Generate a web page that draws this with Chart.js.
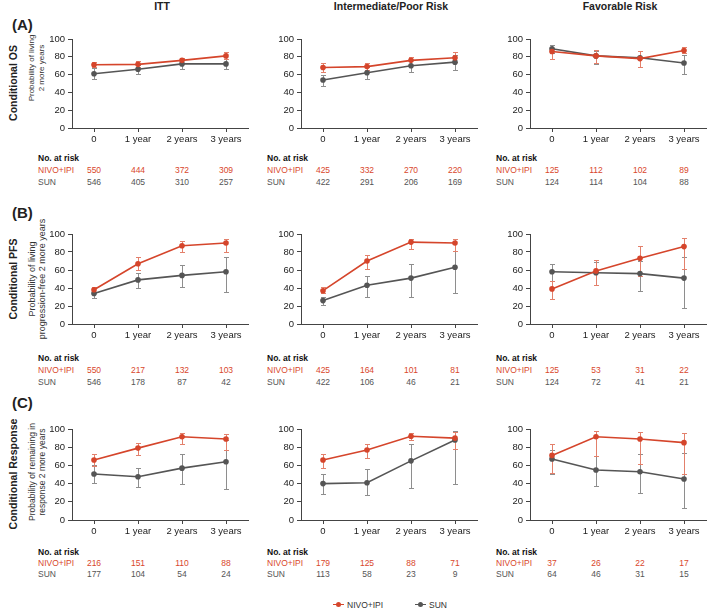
<!DOCTYPE html>
<html>
<head>
<meta charset="utf-8">
<script src="https://cdn.jsdelivr.net/npm/chart.js@4.4.0/dist/chart.umd.min.js"></script>
<style>
html, body { margin: 0; padding: 0; background: #fff; }
body { width: 709px; height: 611px; position: relative; overflow: hidden; font-family: "Liberation Sans", Arial, sans-serif; color: #222; }
.abs { position: absolute; white-space: nowrap; line-height: 1; }
canvas { position: absolute; }
.colTitle { font-weight: bold; font-size: 10.5px; transform: translate(-50%, -50%); }
.rowTag { font-weight: bold; font-size: 15px; transform: translateY(-50%); }
.rowTitle { font-weight: bold; font-size: 10.5px; transform: translate(-50%, -50%) rotate(-90deg); }
.yTitle { color: #333; text-align: center; line-height: 10px; transform: translate(-50%, -50%) rotate(-90deg); }
.risk { font-size: 8.5px; transform: translateY(-50%); }
.num { font-size: 8.5px; transform: translate(-50%, -50%); }
.red { color: #d9472c; }
.grey { color: #555; }
</style>
</head>
<body>
<script>
// time points
const timeLabels = ['0', '1 year', '2 years', '3 years'];
const columns = ['ITT', 'Intermediate/Poor Risk', 'Favorable Risk'];

// Conditional OS (per column: ITT, Int/Poor, Favorable)
const osNivo   = [[71, 71.5, 76, 81], [68, 69, 76, 79], [86, 81, 78, 87]];
const osNivoLo = [[68, 68, 72, 77], [63, 65, 71, 74], [78, 73, 69, 84]];
const osNivoHi = [[74, 75, 79, 85], [73, 73, 80, 85], [90, 88, 86, 91]];
const osSun    = [[61, 66, 72, 72], [54, 62, 70, 74], [89, 81, 79, 73]];
const osSunLo  = [[55, 61, 66, 66], [47, 55, 63, 65], [84, 72, 68, 61]];
const osSunHi  = [[67, 71, 77, 78], [60, 68, 76, 82], [93, 87, 86, 82]];

// Conditional PFS
const pfsNivo   = [[38, 67, 87, 90], [37, 70, 91, 90], [39, 59, 73, 86]];
const pfsNivoLo = [[36, 60, 80, 80], [34, 61, 83, 81], [28, 43, 53, 61]];
const pfsNivoHi = [[41, 74, 92, 94], [41, 77, 94, 95], [48, 71, 87, 96]];
const pfsSun    = [[34, 49, 54, 58], [26, 43, 51, 63], [58, 57, 56, 51]];
const pfsSunLo  = [[29, 40, 41, 36], [21, 30, 30, 34], [48, 43, 37, 18]];
const pfsSunHi  = [[40, 57, 66, 75], [30, 53, 67, 81], [67, 69, 70, 75]];

// Conditional response
const respNivo   = [[66, 79, 91.5, 89], [66, 77, 92, 90], [71, 91.5, 89, 85]];
const respNivoLo = [[59, 71.5, 83, 77], [57, 68, 88, 78], [52, 70, 62, 51]];
const respNivoHi = [[72.5, 85, 96, 94], [72.5, 83.5, 96, 97], [83.5, 97.5, 97, 96]];
const respSun    = [[50.5, 47.5, 57, 64], [40, 41, 65, 88], [67, 55, 53, 45]];
const respSunLo  = [[41, 36.5, 39.5, 34], [28.5, 27, 35, 39.5], [51, 37, 30, 13]];
const respSunHi  = [[60, 57.5, 72.5, 88], [51, 56, 83.5, 98], [77, 70, 72.5, 74]];

// No. at risk
const osRiskNivo   = [[550, 444, 372, 309], [425, 332, 270, 220], [125, 112, 102, 89]];
const osRiskSun    = [[546, 405, 310, 257], [422, 291, 206, 169], [124, 114, 104, 88]];
const pfsRiskNivo  = [[550, 217, 132, 103], [425, 164, 101, 81], [125, 53, 31, 22]];
const pfsRiskSun   = [[546, 178, 87, 42], [422, 106, 46, 21], [124, 72, 41, 21]];
const respRiskNivo = [[216, 151, 110, 88], [179, 125, 88, 71], [37, 26, 22, 17]];
const respRiskSun  = [[177, 104, 54, 24], [113, 58, 23, 9], [64, 46, 31, 15]];

const RED = '#d5452b', RED_ERR = '#e3806b';
const GREY = '#555555', GREY_ERR = '#8e8e8e';
const AXIS = '#444';
const FONT = '"Liberation Sans", Arial, sans-serif';

// layout
const colX = [72, 301, 530];          // y axis position per column
const plotW = 178;
const rowTop = [39, 234, 429];        // y = 100
const rowBot = [128, 324, 520];       // y = 0
const AXIS_W = 40, X_H = 24, PAD_T = 10, PAD_R = 2;

function addText(cls, html, x, y, style) {
    const d = document.createElement('div');
    d.className = 'abs ' + cls;
    d.innerHTML = html;
    d.style.left = x + 'px';
    d.style.top = y + 'px';
    if (style) d.style.cssText += style;
    document.body.appendChild(d);
    return d;
}

const errorBars = {
    id: 'errorBars',
    beforeDatasetsDraw(chart) {
        const ctx = chart.ctx, ys = chart.scales.y;
        for (let di = chart.data.datasets.length - 1; di >= 0; di--) {
            const ds = chart.data.datasets[di];
            const meta = chart.getDatasetMeta(di);
            ctx.save();
            ctx.strokeStyle = ds.errColor;
            ctx.lineWidth = 1;
            meta.data.forEach((pt, i) => {
                const x = Math.round(pt.x) + 0.5;
                const yl = Math.round(ys.getPixelForValue(ds.errLo[i])) + 0.5;
                const yh = Math.round(ys.getPixelForValue(ds.errHi[i])) + 0.5;
                ctx.beginPath();
                ctx.moveTo(x, yl); ctx.lineTo(x, yh);
                ctx.moveTo(x - 2.5, yl); ctx.lineTo(x + 2.5, yl);
                ctx.moveTo(x - 2.5, yh); ctx.lineTo(x + 2.5, yh);
                ctx.stroke();
            });
            ctx.restore();
        }
    }
};

function makePanel(row, col, nivo, nLo, nHi, sun, sLo, sHi, riskN, riskS) {
    const plotH = rowBot[row] - rowTop[row];
    const left = colX[col] - AXIS_W, top = rowTop[row] - PAD_T;
    const w = AXIS_W + plotW + PAD_R, h = PAD_T + plotH + X_H;
    const cv = document.createElement('canvas');
    cv.width = w; cv.height = h;
    cv.style.left = left + 'px'; cv.style.top = top + 'px';
    cv.style.width = w + 'px'; cv.style.height = h + 'px';
    document.body.appendChild(cv);

    const tickFont = { family: FONT, size: 9.5 };
    const chart = new Chart(cv.getContext('2d'), {
        type: 'line',
        data: {
            labels: timeLabels,
            datasets: [
                { label: 'NIVO+IPI', data: nivo, errLo: nLo, errHi: nHi, errColor: RED_ERR,
                  borderColor: RED, backgroundColor: RED, borderWidth: 1.6,
                  pointRadius: 2.8, pointBorderWidth: 0, tension: 0 },
                { label: 'SUN', data: sun, errLo: sLo, errHi: sHi, errColor: GREY_ERR,
                  borderColor: GREY, backgroundColor: GREY, borderWidth: 1.6,
                  pointRadius: 2.8, pointBorderWidth: 0, tension: 0 }
            ]
        },
        options: {
            responsive: false,
            animation: false,
            devicePixelRatio: 1,
            layout: { padding: { top: PAD_T, right: PAD_R, left: 0, bottom: 0 } },
            plugins: { legend: { display: false }, tooltip: { enabled: false } },
            scales: {
                x: {
                    offset: true,
                    grid: { drawOnChartArea: false, tickLength: 4, color: AXIS, offset: false },
                    border: { color: AXIS, width: 1 },
                    ticks: { font: tickFont, color: '#222', padding: 2, maxRotation: 0, autoSkip: false },
                    afterFit: s => { s.height = X_H; }
                },
                y: {
                    min: 0, max: 100,
                    grid: { drawOnChartArea: false, tickLength: 4, color: AXIS },
                    border: { color: AXIS, width: 1 },
                    ticks: { stepSize: 20, font: tickFont, color: '#222', padding: 3 },
                    afterFit: s => { s.width = AXIS_W; }
                }
            }
        },
        plugins: [errorBars]
    });

    // number at risk table, aligned with the chart's x scale
    const y0 = rowBot[row];
    const tabY = [y0 + 30, y0 + 42, y0 + 54];
    if (row === 1) { tabY[0] = y0 + 34; tabY[1] = y0 + 46; tabY[2] = y0 + 58; }
    if (row === 2) { tabY[0] = y0 + 32; tabY[1] = y0 + 43; tabY[2] = y0 + 54; }
    const tx = colX[col] - 34;
    addText('risk', '<b>No. at risk</b>', tx, tabY[0], 'color:#111');
    addText('risk red', 'NIVO+IPI', tx, tabY[1]);
    addText('risk grey', 'SUN', tx, tabY[2]);
    const xs = chart.scales.x;
    for (let i = 0; i < timeLabels.length; i++) {
        const px = left + xs.getPixelForValue(i);
        addText('num red', riskN[i], px, tabY[1]);
        addText('num grey', riskS[i], px, tabY[2]);
    }
}

// column titles
columns.forEach((t, c) => addText('colTitle', t, colX[c] + 90, 6));

// row tags and titles
addText('rowTag', '(A)', 12, 24);
addText('rowTag', '(B)', 12, 212);
addText('rowTag', '(C)', 12, 402);
addText('rowTitle', 'Conditional OS', 13, 83);
addText('rowTitle', 'Conditional PFS', 13, 279);
addText('rowTitle', 'Conditional Response', 13, 474);
addText('yTitle', 'Probability of living<br>2 more years', 37, 68, 'font-size:8px');
addText('yTitle', 'Probability of living<br>progression-free 2 more years', 37, 279, 'font-size:9px');
addText('yTitle', 'Probability of remaining in<br>response 2 more years', 37, 472, 'font-size:8.5px');

for (let c = 0; c < 3; c++) {
    makePanel(0, c, osNivo[c], osNivoLo[c], osNivoHi[c], osSun[c], osSunLo[c], osSunHi[c], osRiskNivo[c], osRiskSun[c]);
    makePanel(1, c, pfsNivo[c], pfsNivoLo[c], pfsNivoHi[c], pfsSun[c], pfsSunLo[c], pfsSunHi[c], pfsRiskNivo[c], pfsRiskSun[c]);
    makePanel(2, c, respNivo[c], respNivoLo[c], respNivoHi[c], respSun[c], respSunLo[c], respSunHi[c], respRiskNivo[c], respRiskSun[c]);
}

// legend
function legendItem(cx, color, text) {
    addText('', '', cx - 5.5, 603.5, 'width:11px;height:1.5px;background:' + color);
    addText('', '', cx - 2.5, 602, 'width:5px;height:5px;border-radius:50%;background:' + color);
    addText('risk', text, cx + 9, 604.5, 'color:#333');
}
legendItem(338, RED, 'NIVO+IPI');
legendItem(420, GREY, 'SUN');
</script>
</body>
</html>
